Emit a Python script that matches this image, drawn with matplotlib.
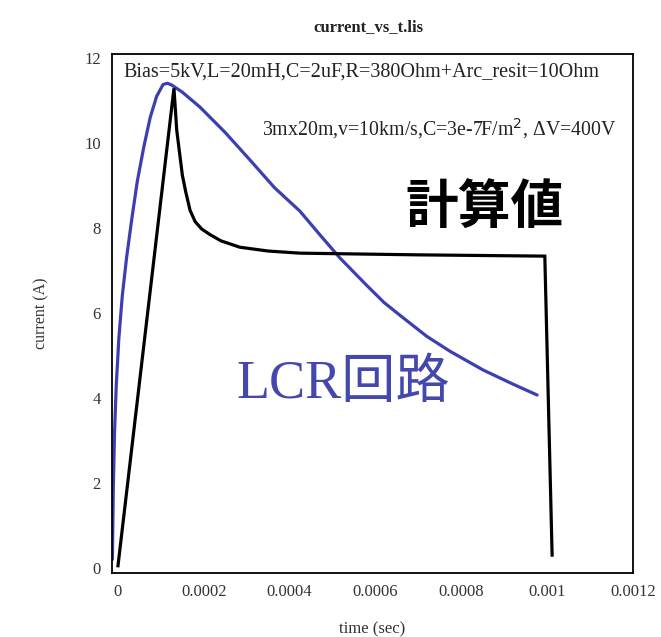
import matplotlib
matplotlib.use("Agg")
import matplotlib.pyplot as plt

# simulated current (black), microseconds / amps
calc_t_us = [0, 130.5, 137, 150, 158, 168, 180, 195, 214, 240, 284, 350, 424, 700, 995, 1012]
calc_i = [0.05, 11.29, 10.3, 9.25, 8.85, 8.42, 8.15, 7.98, 7.85, 7.7, 7.55, 7.46, 7.41, 7.37, 7.34, 0.3]

# LCR circuit current (blue)
lcr_t_us = [-13, -11, -8, -4, 2, 10, 20, 32, 45, 60, 75, 90, 105, 115, 125, 150, 191,
            250, 308, 365, 424, 470, 517, 580, 620, 657, 720, 774, 851, 920, 977]
lcr_i = [0.2, 1.8, 3.2, 4.3, 5.4, 6.4, 7.3, 8.2, 9.1, 9.9, 10.6, 11.1, 11.38, 11.41, 11.37, 11.2, 10.85,
         10.25, 9.6, 8.95, 8.4, 7.85, 7.3, 6.65, 6.25, 5.95, 5.45, 5.1, 4.66, 4.33, 4.07]

xticks = [0, 0.0002, 0.0004, 0.0006, 0.0008, 0.001, 0.0012]
xtick_labels = ["0", "0.0002", "0.0004", "0.0006", "0.0008", "0.001", "0.0012"]
yticks = [0, 2, 4, 6, 8, 10, 12]

serif = "Liberation Serif"
blue = "#3d3fb0"

fig = plt.figure(figsize=(6.61, 6.37), dpi=100)
ax = fig.add_axes([0.1694, 0.1005, 0.7882, 0.8148])

ax.plot([t * 1e-6 for t in lcr_t_us], lcr_i, color=blue, lw=2.3, solid_capstyle="round")
ax.plot([t * 1e-6 for t in calc_t_us], calc_i, color="black", lw=2.3, solid_joinstyle="miter")

ax.set_xlim(-1.4e-5, 0.0012005)
ax.set_ylim(-0.12, 12.1)
ax.set_xticks(xticks)
ax.set_xticklabels(xtick_labels, family=serif, fontsize=12, color="#333333")
ax.set_yticks(yticks)
ax.set_yticklabels([str(v) for v in yticks], family=serif, fontsize=12, color="#333333")
ax.tick_params(length=0, pad=8)
for s in ax.spines.values():
    s.set_linewidth(1.3)

ax.set_xlabel("time (sec)", family=serif, fontsize=12, color="#333333", labelpad=15)
ax.set_ylabel("current (A)", family=serif, fontsize=11.5, color="#333333")
ax.yaxis.set_label_coords(-0.12, 0.5)
fig.text(0.557, 0.958, "current_vs_t.lis", family=serif, fontsize=12, fontweight="bold",
         ha="center", va="center", color="#222222")

ax.text(12e-6, 11.67, "Bias=5kV,L=20mH,C=2uF,R=380Ohm+Arc_resit=10Ohm",
        family=serif, fontsize=14.5, va="center", color="#222222")
ax.text(336e-6, 10.35, "3mx20m,v=10km/s,C=3e-7F/m$^2$, ΔV=400V",
        family=serif, fontsize=14.3, va="center", color="#222222")
ax.text(669e-6, 8.47, "計算値", family=["Noto Sans CJK JP", "DejaVu Sans"], fontsize=38,
        fontweight="bold", va="center", color="black")
ax.text(277e-6, 4.3, "LCR回路", family=[serif, "Noto Sans CJK JP"], fontsize=39,
        va="center", color="#4448ac")

fig.savefig("out.png", dpi=100)
